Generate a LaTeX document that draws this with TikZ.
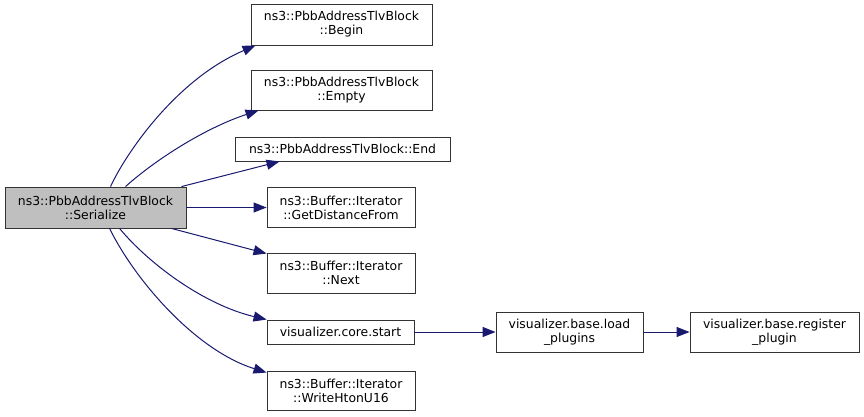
\documentclass[tikz,border=0pt]{standalone}
\usepackage{fontspec}
\setmainfont{DejaVu Sans}
\usetikzlibrary{arrows.meta}
\definecolor{edgeblue}{HTML}{191970}
\tikzset{
  box/.style={draw=black!80, line width=0.9pt, fill=white, inner sep=0pt, align=center,
    font=\fontsize{12.4}{14}\selectfont},
  cur/.style={box, fill=black!25},
  edge/.style={draw=edgeblue, line width=1pt, -{Triangle[length=13pt,width=10pt]}},
}
\begin{document}
\begin{tikzpicture}[x=1pt,y=-1pt]
\useasboundingbox (0,0) rectangle (864,416);
\node[cur, minimum width=181pt, minimum height=41pt] (s) at (95.5,207.5) {ns3::PbbAddressTlvBlock\\::Serialize};
\node[box, minimum width=181pt, minimum height=41pt] (b) at (341.5,24.5) {ns3::PbbAddressTlvBlock\\::Begin};
\node[box, minimum width=181pt, minimum height=40pt] (e) at (341.5,90) {ns3::PbbAddressTlvBlock\\::Empty};
\node[box, minimum width=215pt, minimum height=24pt] (en) at (342.5,149) {ns3::PbbAddressTlvBlock::End};
\node[box, minimum width=148pt, minimum height=40pt] (g) at (341,207.5) {ns3::Buffer::Iterator\\::GetDistanceFrom};
\node[box, minimum width=148pt, minimum height=40pt] (n) at (341,273) {ns3::Buffer::Iterator\\::Next};
\node[box, minimum width=147pt, minimum height=24pt] (c) at (340.5,332) {visualizer.core.start};
\node[box, minimum width=148pt, minimum height=39pt] (w) at (341,390.5) {ns3::Buffer::Iterator\\::WriteHtonU16};
\node[box, minimum width=147pt, minimum height=40pt] (l) at (569.5,332) {visualizer.base.load\\\_plugins};
\node[box, minimum width=169pt, minimum height=40pt] (r) at (774.5,332) {visualizer.base.register\\\_plugin};

\draw[edge] ([xshift=106pt]s.north west) .. controls (125,155) and (175,80) .. ([xshift=5pt]b.south west);
\draw[edge] ([xshift=121pt]s.north west) .. controls (155,160) and (205,128) .. ([xshift=8pt]e.south west);
\draw[edge] ([xshift=177pt]s.north west) -- ([xshift=45pt]en.south west);
\draw[edge] (s.east) -- (g.west);
\draw[edge] ([xshift=167pt]s.south west) -- ([yshift=-1pt]n.north west);
\draw[edge] ([xshift=115pt]s.south west) .. controls (150,265) and (205,305) .. (c.north west);
\draw[edge] ([xshift=105pt]s.south west) .. controls (135,280) and (195,350) .. ([yshift=-2pt]w.north west);
\draw[edge] (c.east) -- (l.west);
\draw[edge] (l.east) -- (r.west);
\end{tikzpicture}
\end{document}
